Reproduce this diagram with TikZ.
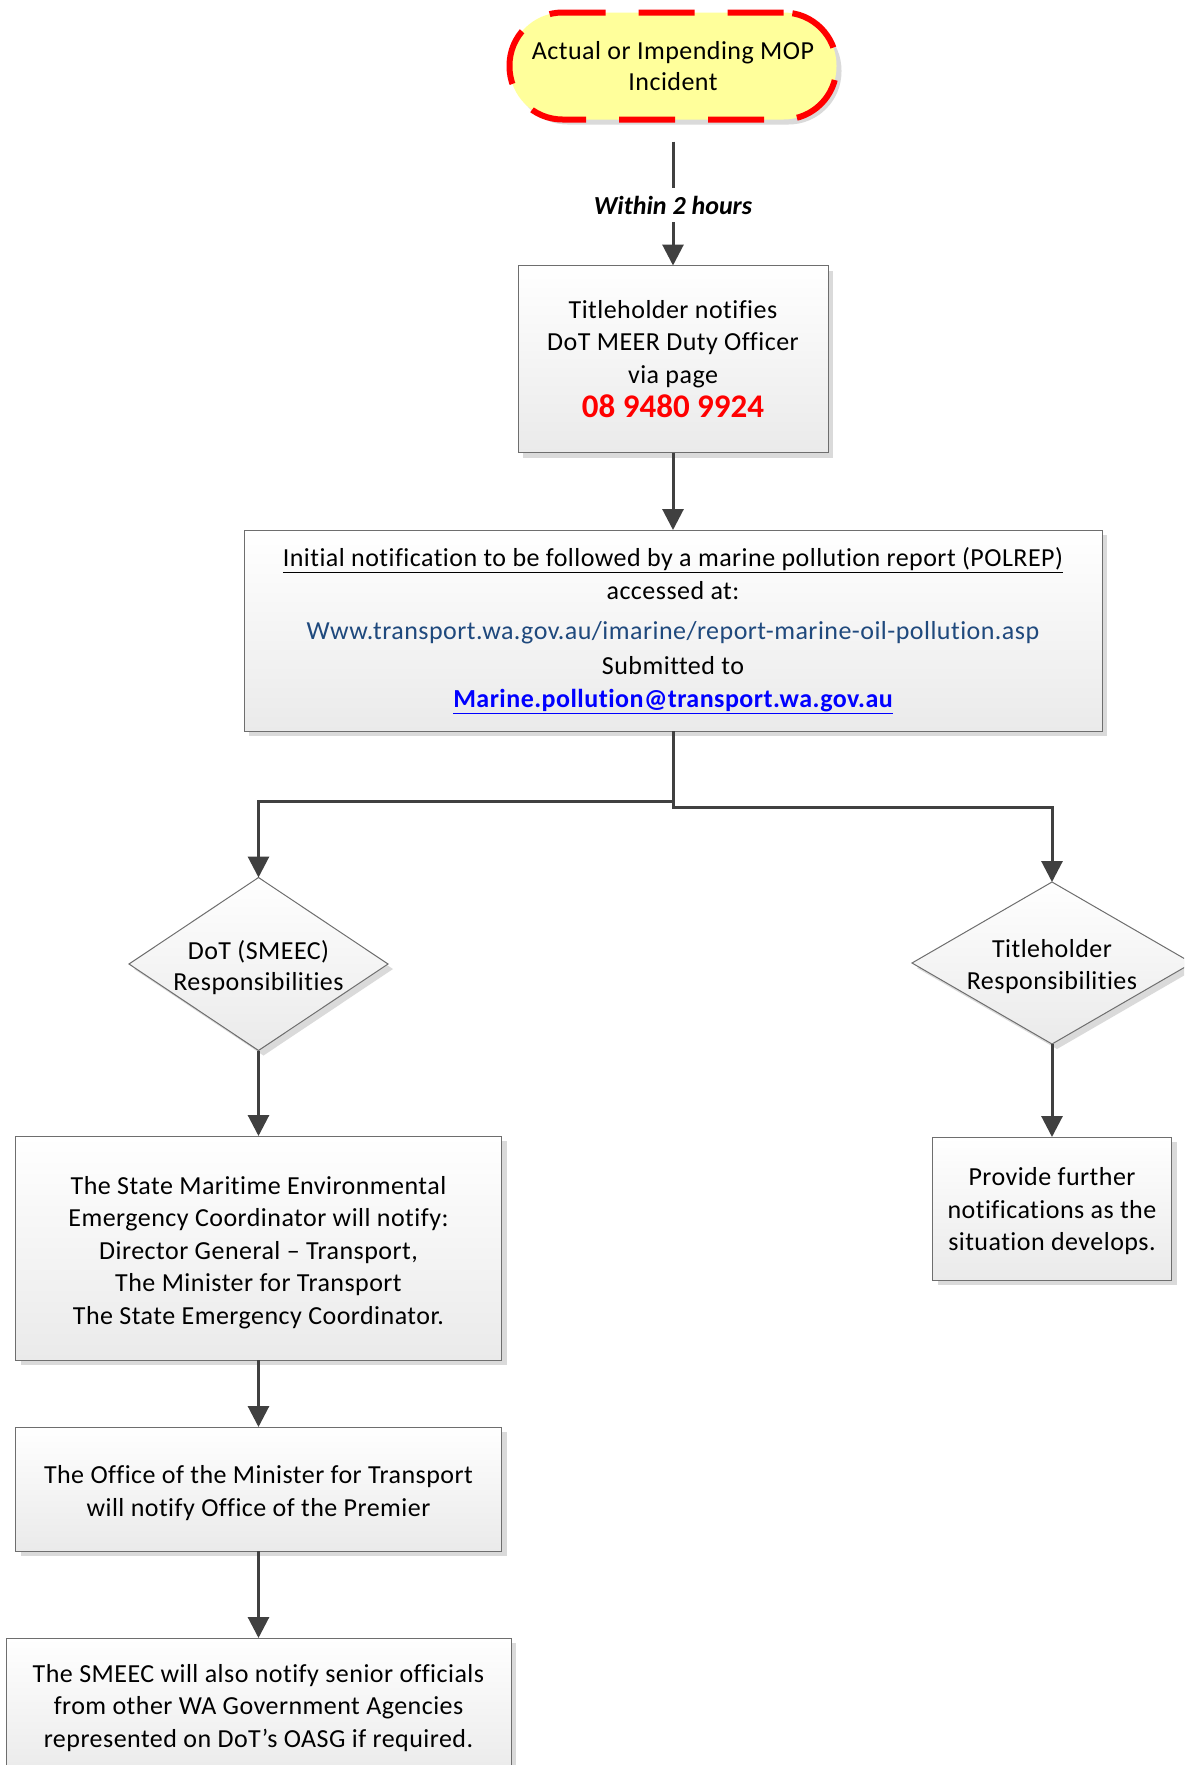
\documentclass[tikz,border=0pt]{standalone}
\usepackage{fontspec}
\setmainfont[Ligatures={TeX,NoCommon},LetterSpace=1.8]{Carlito}
\newfontfamily\tightfont[Ligatures={TeX,NoCommon}]{Carlito}
\usetikzlibrary{shapes.geometric,arrows.meta,shadows}
\definecolor{linegray}{RGB}{64,64,64}
\definecolor{bordergray}{RGB}{110,110,110}
\definecolor{shadowgray}{RGB}{218,218,218}
\definecolor{boxbottom}{RGB}{234,234,234}
\definecolor{pillyellow}{RGB}{255,255,155}
\definecolor{urlblue}{RGB}{31,73,125}
\definecolor{mailblue}{RGB}{0,0,255}
\definecolor{phonered}{RGB}{255,0,0}
\begin{document}
\begin{tikzpicture}[x=1pt,y=-1pt,
  shade/.style={drop shadow={shadow xshift=5pt,shadow yshift=-5pt,fill=shadowgray,opacity=1}},
  box/.style={shade,draw=bordergray,line width=1pt,top color=white,bottom color=boxbottom,
    inner sep=0pt,outer sep=0pt,align=center,font=\fontsize{26}{32.5}\selectfont},
  decision/.style={shade,shape=diamond,draw=bordergray,line width=1pt,top color=white,
    bottom color=boxbottom,inner sep=0pt,outer sep=0pt},
  dtext/.style={align=center,font=\fontsize{26}{31.5}\selectfont,inner sep=0pt,yshift=-3.5pt},
  pill/.style={shade,draw=phonered,line width=6pt,dash pattern=on 56pt off 33pt,
    fill=pillyellow,rounded corners=53pt,inner sep=0pt,outer sep=0pt,align=center,
    font=\fontsize{26}{31}\selectfont},
  conn/.style={draw=linegray,line width=3pt,-{Triangle[length=21pt,width=21pt]}},
  plain/.style={draw=linegray,line width=3pt}
]
\clip (0,0) rectangle (1184,1765);
\fill[white] (0,0) rectangle (1184,1765);

\node[pill,minimum width=327pt,minimum height=107pt] (start) at (673,66)
  {Actual or Impending MOP\\Incident};

\node[inner sep=0pt,outer sep=0pt,minimum height=34pt,
  font=\fontsize{26}{30}\selectfont\tightfont\bfseries\itshape] (w2h) at (673,205) {Within 2 hours};

\node[box,minimum width=310pt,minimum height=187pt] (title) at (673,359)
  {Titleholder notifies\\DoT MEER Duty Officer\\via page\\[2pt]
   {\fontsize{33}{36}\selectfont\tightfont\bfseries\color{phonered}08 9480 9924}};

\node[box,minimum width=858pt,minimum height=201pt] (polrep) at (673,630.5)
  {\underline{Initial notification to be followed by a marine pollution report (POLREP)}\\[0.5pt]
   accessed at:\\[8pt]
   {\color{urlblue}Www.transport.wa.gov.au/imarine/report-marine-oil-pollution.asp}\\[2.5pt]
   Submitted to\\
   {\bfseries\color{mailblue}\underline{Marine.pollution@transport.wa.gov.au}}};

\node[decision,minimum width=259pt,minimum height=173pt] (ld) at (258.5,964) {};
\node[dtext] (ldt) at (ld.center) {DoT (SMEEC)\\Responsibilities};

\node[decision,minimum width=280pt,minimum height=162pt] (rd) at (1052,963) {};
\node[dtext] (rdt) at (rd.center) {Titleholder\\Responsibilities};

\node[box,minimum width=486pt,minimum height=224pt] (b4) at (258.5,1248)
  {\rule{0pt}{27pt}The State Maritime Environmental\\Emergency Coordinator will notify:\\
   Director General -- Transport,\\The Minister for Transport\\
   The State Emergency Coordinator.};

\node[box,minimum width=486pt,minimum height=124pt] (b5) at (258.5,1489)
  {\rule{0pt}{26pt}The Office of the Minister for Transport\\will notify Office of the Premier};

\node[box,minimum width=505pt,minimum height=140pt] (b6) at (258.5,1708)
  {The SMEEC will also notify senior officials\\from other WA Government Agencies\\
   represented on DoT’s OASG if required.};

\node[box,minimum width=239pt,minimum height=143pt] (b7) at (1052,1208.5)
  {\rule{0pt}{24pt}Provide further\\notifications as the\\situation develops.};

\draw[plain,shorten <=22pt] (start.south) -- (w2h.north);
\draw[conn] (w2h.south) -- (title.north);
\draw[conn] (title.south) -- (polrep.north);
\draw[conn] (polrep.south) -- ++(0,70) -| (ld.north);
\draw[conn] (polrep.south) -- ++(0,76) -| (rd.north);
\draw[conn] (ld.south) -- (b4.north);
\draw[conn] (b4.south) -- (b5.north);
\draw[conn] (b5.south) -- (b6.north);
\draw[conn] (rd.south) -- (b7.north);
\end{tikzpicture}
\end{document}
